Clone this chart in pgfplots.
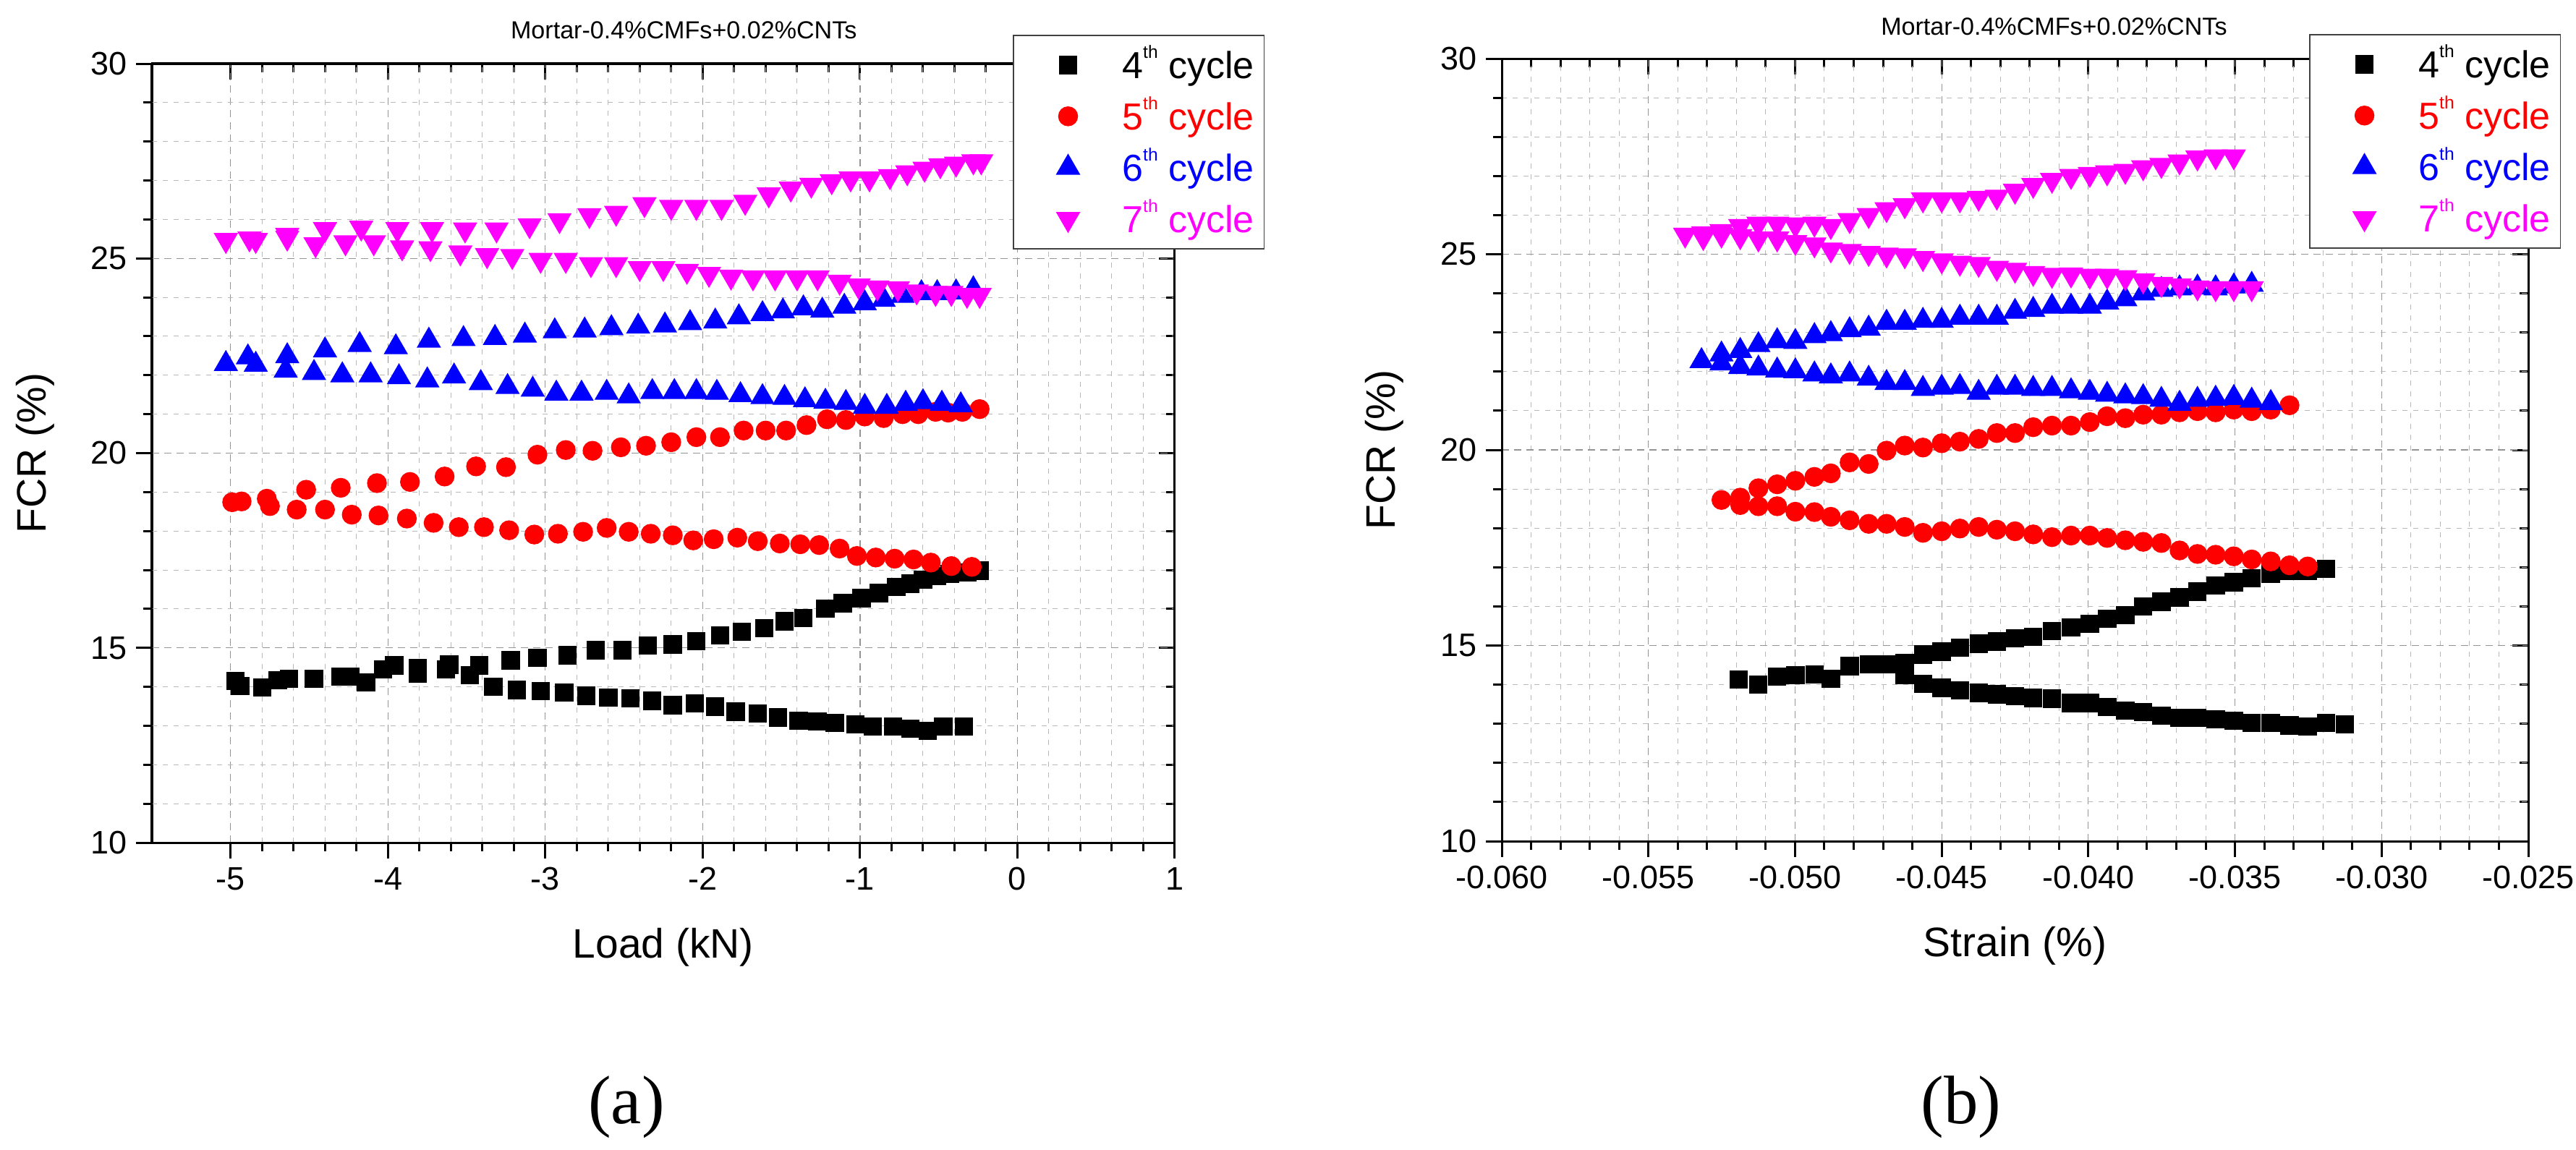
\documentclass[border=0pt]{standalone}
\usepackage{fontspec}
\setmainfont{Liberation Sans}
\newfontfamily\serifT{Liberation Serif}
\usepackage{pgfplots}
\pgfplotsset{compat=1.18}
\newcommand{\fsz}[1]{\fontsize{#1}{#1}\selectfont}
\definecolor{cR}{RGB}{255,0,0}
\definecolor{cB}{RGB}{0,0,255}
\definecolor{cM}{RGB}{255,0,255}
\newcommand{\thsup}{\raisebox{2.8mm}{\fsz{7}th}}

\pgfplotsset{
  fcrbase/.style={
    scale only axis,
    scaled x ticks=false, scaled y ticks=false,
    ymin=10, ymax=30, ytick={10,15,20,25,30},
    minor x tick num=4, minor y tick num=4,
    axis line style={line width=0.3mm},
    major tick length=2.2mm, minor tick length=1.2mm,
    tick style={line width=0.3mm, black},
  },
  fcrticks/.style={
    fcrbase, tick align=inside, xtick pos=right, ytick pos=right,
    xticklabels={}, yticklabels={},
  },
  fcrmain/.style={
    fcrbase, tick align=outside, xtick pos=left, ytick pos=left,
    yticklabels={10,15,20,25,30},
    grid=both,
    major grid style={line width=0.12mm, black!42, dash pattern=on 1.0mm off 0.7mm},
    minor grid style={line width=0.1mm, black!28, dash pattern=on 0.7mm off 0.8mm},
    ticklabel style={font=\fsz{12.8}},
    xlabel style={font=\fsz{16.2}, at={(axis description cs:0.5,-0.134)}, anchor=center},
    ylabel style={font=\fsz{16.2}, at={(axis description cs:-0.114,0.5)}, anchor=center},
    ylabel={FCR (\%)},
    title={Mortar-0.4\%CMFs+0.02\%CNTs},
    legend cell align=left,
    legend image code/.code={\path (0mm,0mm) (13.5mm,0mm); \draw[##1] plot coordinates {(6.1mm,0mm)};},
  },
  lgd/.style={legend style={at={#1}, anchor=north west, draw=black!75, line width=0.15mm, fill=white,
      inner xsep=1.4mm, inner ysep=1mm, row sep=0.9mm, column sep=0pt,
      nodes={inner sep=0pt, text height=5mm, text depth=1.2mm}, font=\fsz{14.8}}},
  s4/.style={only marks, mark=square*, mark size=1.2mm, color=black},
  s5/.style={only marks, mark=*, mark size=1.3mm, color=cR},
  s6/.style={only marks, mark=triangle*, mark size=1.8mm, color=cB},
  s7/.style={only marks, mark=triangle*, mark size=1.8mm, color=cM, mark options={rotate=180}},
}

\begin{document}
\begin{tikzpicture}
\useasboundingbox (0,0) rectangle (356.1mm,158.9mm);

% ---------------- (a) ----------------
\begin{axis}[fcrticks, at={(21mm,42.4mm)}, anchor=south west, width=141.4mm, height=107.7mm,
  xmin=-5.5, xmax=1, xtick={-5,-4,-3,-2,-1,0,1}]
\end{axis}
\begin{axis}[fcrmain, at={(21mm,42.4mm)}, anchor=south west, width=141.4mm, height=107.7mm,
  xmin=-5.5, xmax=1, xtick={-5,-4,-3,-2,-1,0,1}, xticklabels={-5,-4,-3,-2,-1,0,1},
  xlabel={Load (kN)},
  title style={font=\fsz{9.7}, at={(axis description cs:0.52,1)}, anchor=base, yshift=1.3mm},
  lgd={(0.8416,1.0371)}]
\addplot[s4] coordinates {
(-4.97,14.15) (-4.94,14.02) (-4.80,13.98) (-4.70,14.17) (-4.63,14.21) (-4.47,14.21) (-4.30,14.26) (-4.24,14.26)
(-4.14,14.11) (-4.03,14.45) (-3.96,14.55) (-3.81,14.49) (-3.81,14.34) (-3.63,14.45) (-3.61,14.57) (-3.48,14.30)
(-3.42,14.55) (-3.33,14.00) (-3.22,14.68) (-3.18,13.92) (-3.05,14.75) (-3.03,13.89) (-2.88,13.85) (-2.86,14.81)
(-2.74,13.77) (-2.68,14.94) (-2.60,13.72) (-2.51,14.94) (-2.46,13.70) (-2.35,15.06) (-2.32,13.64) (-2.19,15.09)
(-2.19,13.53) (-2.05,13.58) (-2.04,15.17) (-1.92,13.49) (-1.89,15.32) (-1.79,13.36) (-1.75,15.41) (-1.65,13.32)
(-1.61,15.51) (-1.52,13.21) (-1.48,15.68) (-1.39,13.13) (-1.36,15.77) (-1.27,13.11) (-1.22,16.01) (-1.16,13.07)
(-1.11,16.15) (-1.03,13.04) (-0.99,16.28) (-0.92,12.98) (-0.88,16.41) (-0.79,12.98) (-0.77,16.56) (-0.68,16.65)
(-0.68,12.92) (-0.60,16.75) (-0.57,12.87) (-0.51,16.84) (-0.47,12.98) (-0.43,16.90) (-0.34,12.98) (-0.32,16.94)
(-0.24,16.98)};
\addlegendentry{4\thsup\ cycle}
\addplot[s5] coordinates {
(-4.99,18.74) (-4.93,18.76) (-4.77,18.83) (-4.52,19.06) (-4.30,19.11) (-4.07,19.23) (-3.86,19.26) (-3.64,19.40)
(-3.44,19.66) (-3.25,19.64) (-3.05,19.96) (-2.87,20.08) (-2.70,20.06) (-2.52,20.15) (-2.36,20.19) (-2.20,20.28)
(-2.04,20.41) (-1.89,20.41) (-1.74,20.58) (-1.60,20.58) (-1.47,20.58) (-1.34,20.72) (-1.21,20.87) (-1.09,20.85)
(-0.97,20.94) (-0.85,20.90) (-0.73,21.00) (-0.63,21.00) (-0.52,21.06) (-0.44,21.04) (-0.35,21.06) (-0.24,21.13)
(-4.75,18.64) (-4.58,18.55) (-4.40,18.55) (-4.23,18.42) (-4.06,18.40) (-3.88,18.32) (-3.71,18.21) (-3.55,18.10)
(-3.39,18.10) (-3.23,18.02) (-3.07,17.91) (-2.92,17.93) (-2.76,17.98) (-2.61,18.08) (-2.47,17.98) (-2.33,17.93)
(-2.19,17.89) (-2.06,17.76) (-1.93,17.79) (-1.78,17.83) (-1.65,17.74) (-1.51,17.68) (-1.38,17.66) (-1.26,17.64)
(-1.13,17.55) (-1.02,17.36) (-0.90,17.32) (-0.78,17.29) (-0.66,17.27) (-0.55,17.19) (-0.42,17.10) (-0.29,17.08)};
\addlegendentry{\textcolor{cR}{5\thsup\ cycle}}
\addplot[s6] coordinates {
(-5.03,22.29) (-4.89,22.46) (-4.64,22.49) (-4.40,22.64) (-4.18,22.78) (-3.95,22.72) (-3.74,22.89) (-3.52,22.93)
(-3.32,22.96) (-3.13,23.02) (-2.94,23.13) (-2.75,23.15) (-2.58,23.21) (-2.41,23.25) (-2.24,23.28) (-2.08,23.34)
(-1.92,23.38) (-1.77,23.49) (-1.62,23.57) (-1.49,23.64) (-1.36,23.72) (-1.24,23.66) (-1.10,23.76) (-0.97,23.85)
(-0.85,23.94) (-0.73,24.04) (-0.61,24.11) (-0.51,24.11) (-0.39,24.13) (-0.28,24.21)
(-4.84,22.27) (-4.65,22.12) (-4.47,22.06) (-4.29,22.00) (-4.11,22.00) (-3.93,21.95) (-3.75,21.87) (-3.58,21.97)
(-3.41,21.80) (-3.24,21.70) (-3.08,21.63) (-2.93,21.53) (-2.77,21.53) (-2.61,21.55) (-2.47,21.46) (-2.32,21.57)
(-2.18,21.57) (-2.04,21.57) (-1.91,21.55) (-1.76,21.49) (-1.62,21.44) (-1.48,21.42) (-1.35,21.36) (-1.22,21.32)
(-1.09,21.29) (-0.97,21.19) (-0.83,21.19) (-0.71,21.27) (-0.60,21.31) (-0.48,21.27) (-0.36,21.23)};
\addlegendentry{\textcolor{cB}{6\thsup\ cycle}}
\addplot[s7] coordinates {
(-5.03,25.47) (-4.88,25.51) (-4.64,25.60) (-4.40,25.75) (-4.17,25.79) (-3.94,25.75) (-3.72,25.75) (-3.51,25.74)
(-3.31,25.74) (-3.10,25.85) (-2.91,25.98) (-2.72,26.11) (-2.55,26.17) (-2.37,26.39) (-2.20,26.32) (-2.04,26.32)
(-1.88,26.32) (-1.73,26.45) (-1.58,26.64) (-1.44,26.79) (-1.31,26.89) (-1.18,26.98) (-1.06,27.05) (-0.94,27.05)
(-0.81,27.11) (-0.70,27.21) (-0.59,27.30) (-0.49,27.39) (-0.39,27.43) (-0.28,27.49) (-0.23,27.49)
(-4.84,25.47) (-4.64,25.53) (-4.46,25.36) (-4.27,25.41) (-4.09,25.41) (-3.91,25.28) (-3.73,25.26) (-3.54,25.15)
(-3.37,25.08) (-3.21,25.06) (-3.03,24.96) (-2.87,24.96) (-2.71,24.85) (-2.55,24.85) (-2.40,24.75) (-2.25,24.75)
(-2.10,24.68) (-1.96,24.60) (-1.82,24.53) (-1.68,24.51) (-1.54,24.51) (-1.40,24.51) (-1.27,24.51) (-1.13,24.40)
(-1.01,24.30) (-0.89,24.25) (-0.76,24.23) (-0.64,24.15) (-0.52,24.11) (-0.42,24.11) (-0.32,24.06) (-0.24,24.06)};
\addlegendentry{\textcolor{cM}{7\thsup\ cycle}}
\end{axis}

% ---------------- (b) ----------------
\begin{axis}[fcrticks, at={(207.6mm,42.6mm)}, anchor=south west, width=141.9mm, height=108.2mm,
  xmin=-0.060, xmax=-0.025, xtick={-0.060,-0.055,-0.050,-0.045,-0.040,-0.035,-0.030,-0.025}]
\end{axis}
\begin{axis}[fcrmain, at={(207.6mm,42.6mm)}, anchor=south west, width=141.9mm, height=108.2mm,
  xmin=-0.060, xmax=-0.025, xtick={-0.060,-0.055,-0.050,-0.045,-0.040,-0.035,-0.030,-0.025},
  xticklabels={-0.060,-0.055,-0.050,-0.045,-0.040,-0.035,-0.030,-0.025},
  xlabel={Strain (\%)},
  title style={font=\fsz{9.7}, at={(axis description cs:0.538,1)}, anchor=base, yshift=1.1mm},
  lgd={(0.7865,1.0314)}]
\addplot[s4] coordinates {
(-0.05192,14.13) (-0.05125,14.00) (-0.05061,14.20) (-0.04999,14.24) (-0.04934,14.26) (-0.04878,14.15) (-0.04814,14.47) (-0.04749,14.52)
(-0.04688,14.52) (-0.04626,14.56) (-0.04564,14.77) (-0.04500,14.84) (-0.04438,14.95) (-0.04374,15.05) (-0.04312,15.10) (-0.04250,15.18)
(-0.04188,15.22) (-0.04124,15.37) (-0.04059,15.46) (-0.03995,15.55) (-0.03936,15.68) (-0.03874,15.78) (-0.03813,16.00) (-0.03751,16.12)
(-0.03689,16.23) (-0.03628,16.38) (-0.03566,16.53) (-0.03504,16.62) (-0.03443,16.72) (-0.03378,16.83) (-0.03314,16.90) (-0.03252,16.90)
(-0.03190,16.96)
(-0.04626,14.24) (-0.04564,14.02) (-0.04500,13.92) (-0.04438,13.85) (-0.04374,13.79) (-0.04312,13.75) (-0.04250,13.71) (-0.04188,13.66)
(-0.04124,13.64) (-0.04059,13.53) (-0.03995,13.53) (-0.03936,13.43) (-0.03874,13.34) (-0.03813,13.30) (-0.03751,13.21) (-0.03689,13.15)
(-0.03628,13.15) (-0.03566,13.11) (-0.03504,13.08) (-0.03443,13.02) (-0.03378,13.02) (-0.03314,12.96) (-0.03252,12.93) (-0.03190,13.02)
(-0.03126,12.98)};
\addlegendentry{4\thsup\ cycle}
\addplot[s5] coordinates {
(-0.05251,18.72) (-0.05187,18.78) (-0.05125,19.02) (-0.05061,19.12) (-0.04999,19.21) (-0.04934,19.31) (-0.04878,19.40) (-0.04814,19.68)
(-0.04749,19.64) (-0.04688,19.98) (-0.04626,20.11) (-0.04564,20.06) (-0.04500,20.17) (-0.04438,20.21) (-0.04374,20.28) (-0.04312,20.43)
(-0.04250,20.43) (-0.04188,20.58) (-0.04124,20.62) (-0.04059,20.62) (-0.03995,20.71) (-0.03936,20.86) (-0.03874,20.81) (-0.03813,20.90)
(-0.03751,20.90) (-0.03689,20.96) (-0.03628,20.99) (-0.03566,20.96) (-0.03504,21.03) (-0.03443,20.99) (-0.03378,21.03) (-0.03314,21.14)
(-0.05187,18.59) (-0.05125,18.56) (-0.05061,18.56) (-0.04999,18.42) (-0.04934,18.41) (-0.04878,18.29) (-0.04814,18.20) (-0.04749,18.11)
(-0.04688,18.11) (-0.04626,18.03) (-0.04564,17.88) (-0.04500,17.92) (-0.04438,17.99) (-0.04374,18.03) (-0.04312,17.96) (-0.04250,17.92)
(-0.04188,17.84) (-0.04124,17.77) (-0.04059,17.81) (-0.03995,17.81) (-0.03936,17.75) (-0.03874,17.69) (-0.03813,17.65) (-0.03751,17.62)
(-0.03689,17.43) (-0.03628,17.34) (-0.03566,17.32) (-0.03504,17.28) (-0.03443,17.20) (-0.03378,17.15) (-0.03314,17.05) (-0.03252,17.02)};
\addlegendentry{\textcolor{cR}{5\thsup\ cycle}}
\addplot[s6] coordinates {
(-0.05319,22.27) (-0.05251,22.44) (-0.05187,22.53) (-0.05125,22.68) (-0.05061,22.78) (-0.04999,22.76) (-0.04934,22.91) (-0.04878,22.96)
(-0.04814,23.06) (-0.04749,23.10) (-0.04688,23.25) (-0.04626,23.25) (-0.04564,23.30) (-0.04500,23.30) (-0.04438,23.38) (-0.04374,23.38)
(-0.04312,23.38) (-0.04250,23.53) (-0.04188,23.58) (-0.04124,23.66) (-0.04059,23.66) (-0.03995,23.66) (-0.03936,23.77) (-0.03874,23.85)
(-0.03813,24.00) (-0.03751,24.09) (-0.03689,24.13) (-0.03628,24.15) (-0.03566,24.13) (-0.03504,24.18) (-0.03443,24.22)
(-0.05251,22.21) (-0.05187,22.12) (-0.05125,22.08) (-0.05061,22.03) (-0.04999,22.01) (-0.04934,21.93) (-0.04878,21.88) (-0.04814,21.93)
(-0.04749,21.82) (-0.04688,21.71) (-0.04626,21.71) (-0.04564,21.56) (-0.04500,21.59) (-0.04438,21.61) (-0.04374,21.46) (-0.04312,21.59)
(-0.04250,21.59) (-0.04188,21.56) (-0.04124,21.56) (-0.04059,21.50) (-0.03995,21.46) (-0.03936,21.41) (-0.03874,21.37) (-0.03813,21.35)
(-0.03751,21.28) (-0.03689,21.18) (-0.03628,21.28) (-0.03566,21.31) (-0.03504,21.33) (-0.03443,21.26) (-0.03378,21.20)};
\addlegendentry{\textcolor{cB}{6\thsup\ cycle}}
\addplot[s7] coordinates {
(-0.05375,25.50) (-0.05313,25.53) (-0.05251,25.59) (-0.05187,25.72) (-0.05125,25.78) (-0.05061,25.78) (-0.04999,25.76) (-0.04934,25.78)
(-0.04878,25.72) (-0.04814,25.87) (-0.04749,26.00) (-0.04688,26.15) (-0.04626,26.25) (-0.04564,26.40) (-0.04500,26.40) (-0.04438,26.40)
(-0.04374,26.44) (-0.04312,26.47) (-0.04250,26.62) (-0.04188,26.77) (-0.04124,26.90) (-0.04059,27.00) (-0.03995,27.05) (-0.03936,27.09)
(-0.03874,27.13) (-0.03813,27.22) (-0.03751,27.28) (-0.03689,27.37) (-0.03628,27.47) (-0.03566,27.50) (-0.03504,27.50)
(-0.05313,25.44) (-0.05251,25.50) (-0.05187,25.46) (-0.05125,25.40) (-0.05061,25.40) (-0.04999,25.31) (-0.04934,25.25) (-0.04878,25.12)
(-0.04814,25.08) (-0.04749,25.03) (-0.04688,24.99) (-0.04626,24.97) (-0.04564,24.90) (-0.04500,24.84) (-0.04438,24.78) (-0.04374,24.75)
(-0.04312,24.65) (-0.04250,24.60) (-0.04188,24.52) (-0.04124,24.47) (-0.04059,24.48) (-0.03995,24.45) (-0.03936,24.45) (-0.03874,24.41)
(-0.03813,24.33) (-0.03751,24.24) (-0.03689,24.20) (-0.03628,24.15) (-0.03566,24.13) (-0.03504,24.13) (-0.03443,24.13)};
\addlegendentry{\textcolor{cM}{7\thsup\ cycle}}
\end{axis}

\node[font=\serifT\fsz{27}, anchor=base] at (86.6mm,3.6mm) {(a)};
\node[font=\serifT\fsz{27}, anchor=base] at (271.1mm,3.6mm) {(b)};
\end{tikzpicture}
\end{document}
